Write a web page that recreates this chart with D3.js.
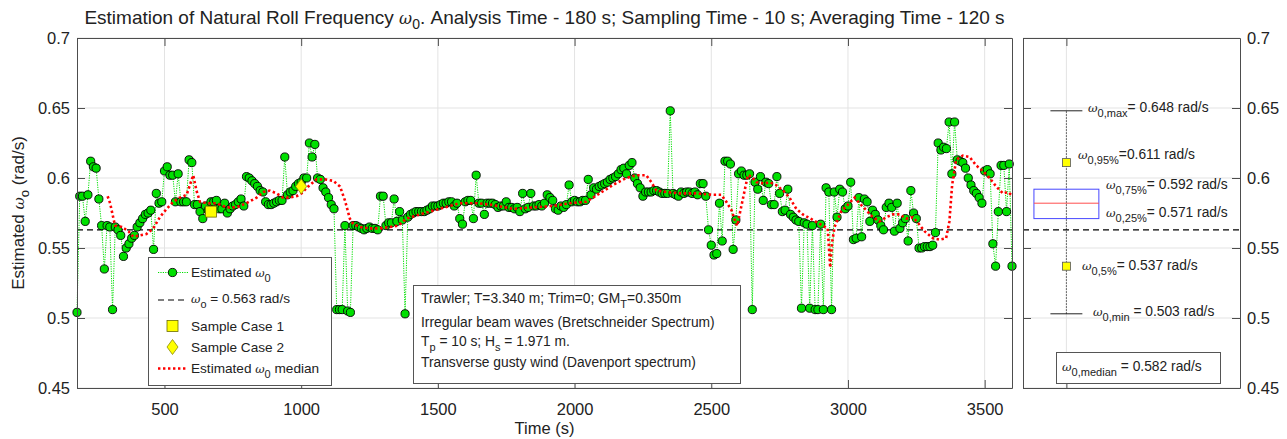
<!DOCTYPE html>
<html>
<head>
<meta charset="utf-8">
<script src="https://cdn.jsdelivr.net/npm/d3@7"></script>
<style>
  html, body { margin: 0; padding: 0; background: #fff; }
  svg { display: block; font-family: "Liberation Sans", Arial, Helvetica, sans-serif; }
</style>
</head>
<body>
<svg id="chart" width="1287" height="439"></svg>
<script>
// ---- data -------------------------------------------------------------
// Estimated natural roll frequency, sampled every 10 s from 180 s to 3600 s
const sampleTimes = d3.range(180, 3601, 10);
const omegaEstimated = [
  0.504,0.587,0.587,0.569,0.588,0.612,0.608,0.607,0.585,0.566, // 180-270
  0.535,0.566,0.565,0.506,0.565,0.563,0.559,0.544,0.550,0.553, // 280-370
  0.557,0.559,0.565,0.568,0.571,0.574,0.575,0.577,0.549,0.589, // 380-470
  0.582,0.583,0.605,0.608,0.602,0.602,0.583,0.603,0.583,0.583, // 480-570
  0.583,0.613,0.611,0.581,0.581,0.576,0.571,0.580,0.577,0.583, // 580-670
  0.583,0.584,0.578,0.578,0.582,0.575,0.578,0.580,0.581,0.583, // 680-770
  0.585,0.580,0.601,0.600,0.598,0.596,0.594,0.591,0.590,0.583, // 780-870
  0.581,0.581,0.582,0.583,0.584,0.584,0.615,0.588,0.590,0.591, // 880-970
  0.594,0.596,0.597,0.600,0.600,0.625,0.615,0.624,0.600,0.599, // 980-1070
  0.593,0.590,0.586,0.581,0.578,0.506,0.506,0.506,0.566,0.505, // 1080-1170
  0.504,0.566,0.566,0.565,0.564,0.563,0.564,0.565,0.564,0.564, // 1180-1270
  0.563,0.587,0.587,0.566,0.568,0.568,0.585,0.569,0.576,0.570, // 1280-1370
  0.503,0.572,0.574,0.575,0.576,0.576,0.576,0.576,0.577,0.578, // 1380-1470
  0.580,0.580,0.580,0.581,0.582,0.582,0.583,0.583,0.580,0.582, // 1480-1570
  0.571,0.567,0.583,0.584,0.584,0.571,0.602,0.582,0.582,0.574, // 1580-1670
  0.582,0.582,0.582,0.581,0.579,0.580,0.580,0.583,0.579,0.579, // 1680-1770
  0.578,0.579,0.576,0.589,0.578,0.579,0.589,0.580,0.580,0.581, // 1780-1870
  0.580,0.582,0.588,0.586,0.584,0.578,0.577,0.580,0.579,0.581, // 1880-1970
  0.595,0.583,0.584,0.583,0.583,0.584,0.584,0.599,0.588,0.593, // 1980-2070
  0.592,0.594,0.595,0.596,0.597,0.599,0.600,0.601,0.603,0.606, // 2080-2170
  0.607,0.603,0.609,0.611,0.600,0.596,0.593,0.587,0.590,0.590, // 2180-2270
  0.590,0.591,0.591,0.590,0.589,0.589,0.589,0.648,0.589,0.588, // 2280-2370
  0.587,0.590,0.589,0.590,0.590,0.589,0.590,0.588,0.596,0.596, // 2380-2470
  0.587,0.563,0.552,0.545,0.546,0.582,0.555,0.612,0.612,0.610, // 2480-2570
  0.549,0.570,0.603,0.605,0.602,0.602,0.603,0.506,0.597,0.592, // 2580-2670
  0.601,0.584,0.597,0.596,0.581,0.581,0.601,0.589,0.576,0.577, // 2680-2770
  0.592,0.574,0.572,0.570,0.569,0.507,0.568,0.567,0.507,0.566, // 2780-2870
  0.506,0.506,0.567,0.506,0.593,0.590,0.506,0.590,0.572,0.592, // 2880-2970
  0.590,0.578,0.580,0.597,0.556,0.557,0.586,0.558,0.585,0.583, // 2980-3070
  0.569,0.577,0.574,0.570,0.566,0.563,0.579,0.582,0.579,0.562, // 3080-3170
  0.582,0.564,0.568,0.571,0.555,0.591,0.575,0.571,0.550,0.550, // 3180-3270
  0.551,0.551,0.551,0.552,0.561,0.625,0.620,0.622,0.621,0.640, // 3280-3370
  0.603,0.640,0.613,0.612,0.611,0.607,0.600,0.595,0.591,0.589, // 3380-3470
  0.586,0.582,0.605,0.606,0.603,0.553,0.537,0.576,0.609,0.609, // 3480-3570
  0.576,0.610,0.537                                            // 3580-3600
];

// Running median of the estimate (120 s averaging window)
const medianTimes = [
  292,301,319,344,368,386,410,434,459,483,508,532,556,581,593,605,617,630,654,690,
  727,763,800,837,861,885,910,934,958,983,1001,1026,1056,1087,1117,1142,1160,1178,1191,1215,
  1252,1288,1325,1355,1385,1434,1507,1580,1641,1690,1775,1848,1921,1982,2043,2092,2140,2189,2226,2262,
  2281,2299,2336,2384,2445,2506,2537,2555,2574,2586,2595,2608,2622,2634,2647,2665,2695,2713,2737,2768,
  2786,2811,2835,2872,2908,2926,2935,2942,2951,2975,3000,3024,3042,3067,3091,3115,3140,3164,3189,3213,
  3237,3256,3280,3311,3335,3359,3371,3381,3396,3420,3445,3469,3493,3518,3542,3567,3585,3597
];
const medianValues = [
  0.587,0.582,0.566,0.565,0.562,0.558,0.559,0.560,0.564,0.572,0.578,0.583,0.586,0.588,0.595,0.602,0.591,0.583,0.582,0.582,
  0.579,0.579,0.582,0.586,0.590,0.591,0.589,0.586,0.586,0.587,0.589,0.594,0.599,0.599,0.598,0.594,0.584,0.571,0.567,0.565,
  0.564,0.564,0.565,0.566,0.571,0.574,0.578,0.582,0.582,0.581,0.578,0.579,0.580,0.582,0.583,0.589,0.595,0.600,0.602,0.602,
  0.597,0.591,0.590,0.589,0.589,0.588,0.588,0.583,0.577,0.570,0.566,0.578,0.591,0.602,0.601,0.597,0.596,0.597,0.595,0.590,
  0.586,0.578,0.574,0.570,0.566,0.564,0.536,0.554,0.565,0.576,0.581,0.586,0.582,0.577,0.572,0.569,0.572,0.574,0.574,0.571,
  0.572,0.568,0.562,0.557,0.556,0.557,0.569,0.595,0.613,0.616,0.615,0.609,0.605,0.600,0.594,0.589,0.590,0.588
];

const referenceOmega = 0.563;
const sampleCaseNames = ["Sample Case 1", "Sample Case 2"];
const sampleCaseTimes = [670, 1000];
const sampleCaseValues = [0.576, 0.594];

// Summary statistics of the estimate
const statNames  = ["min", "5%", "25%", "median", "75%", "95%", "max"];
const statValues = [0.503, 0.537, 0.571, 0.582, 0.592, 0.611, 0.648];

const xTicks = [500, 1000, 1500, 2000, 2500, 3000, 3500];
const yTicks = [0.45, 0.5, 0.55, 0.6, 0.65, 0.7];

const titleText = "Estimation of Natural Roll Frequency ";
const titleRest = ". Analysis Time - 180 s; Sampling Time - 10 s; Averaging Time - 120 s";
const infoLines = [
  ["Trawler; T=3.340 m; Trim=0; GM", "T", "=0.350m"],
  ["Irregular beam waves (Bretschneider Spectrum)"],
  ["T", "p", " = 10 s; H", "s", " = 1.971 m."],
  ["Transverse gusty wind (Davenport spectrum)"]
];

// ---- layout -----------------------------------------------------------
const svg = d3.select("#chart");
const FONT = "'Liberation Sans', Arial, sans-serif";
const axisColor = "#4d4d4d";
const gridColor = "#e3e3e3";
const green = "#00e000";
const tickFont = "16.5px";

const main = { left: 77, right: 1012, top: 38, bottom: 388 };
const side = { left: 1023, right: 1240, top: 38, bottom: 388 };

const x = d3.scaleLinear().domain([180, 3600]).range([main.left, main.right]);
const y = d3.scaleLinear().domain([0.45, 0.7]).range([main.bottom, main.top]);
const xs = d3.scaleLinear().domain([0.5, 3]).range([side.left, side.right]);
const ys = d3.scaleLinear().domain([0.45, 0.7]).range([side.bottom, side.top]);
const fmt = d => String(+d.toFixed(2));

// ---- main panel: grid ------------------------------------------------
const gMain = svg.append("g");
gMain.append("rect").attr("x", main.left).attr("y", main.top)
  .attr("width", main.right - main.left).attr("height", main.bottom - main.top)
  .attr("fill", "#fff");

gMain.append("g").selectAll("line").data(xTicks).join("line")
  .attr("x1", d => x(d)).attr("x2", d => x(d))
  .attr("y1", main.top).attr("y2", main.bottom)
  .attr("stroke", gridColor).attr("stroke-width", 1);
gMain.append("g").selectAll("line").data(yTicks).join("line")
  .attr("x1", main.left).attr("x2", main.right)
  .attr("y1", d => y(d)).attr("y2", d => y(d))
  .attr("stroke", gridColor).attr("stroke-width", 1);

// reference frequency
gMain.append("line")
  .attr("x1", main.left).attr("x2", main.right)
  .attr("y1", y(referenceOmega)).attr("y2", y(referenceOmega))
  .attr("stroke", "#000").attr("stroke-width", 1.2).attr("stroke-dasharray", "6,4");

// estimated series: dotted connector and circle markers
const series = sampleTimes.map((t, i) => [t, omegaEstimated[i]]);
gMain.append("path").datum(series)
  .attr("fill", "none").attr("stroke", green).attr("stroke-width", 1)
  .attr("stroke-dasharray", "1.2,1.2")
  .attr("d", d3.line().x(d => x(d[0])).y(d => y(d[1])));
gMain.append("g").selectAll("circle").data(series).join("circle")
  .attr("cx", d => x(d[0])).attr("cy", d => y(d[1])).attr("r", 4.1)
  .attr("fill", green).attr("stroke", "#000").attr("stroke-width", 0.9);

// running median
const medianSeries = medianTimes.map((t, i) => [t, medianValues[i]]);
gMain.append("path").datum(medianSeries)
  .attr("fill", "none").attr("stroke", "#ff0000").attr("stroke-width", 2.6)
  .attr("stroke-dasharray", "2.4,2.6")
  .attr("d", d3.line().x(d => x(d[0])).y(d => y(d[1])));

// sample cases
gMain.append("rect")
  .attr("x", x(sampleCaseTimes[0]) - 5.5).attr("y", y(sampleCaseValues[0]) - 5.5)
  .attr("width", 11).attr("height", 11)
  .attr("fill", "#ffff00").attr("stroke", "#6b6b00").attr("stroke-width", 0.8);
gMain.append("path")
  .attr("transform", `translate(${x(sampleCaseTimes[1])},${y(sampleCaseValues[1])})`)
  .attr("d", "M0,-7.5L5.5,0L0,7.5L-5.5,0Z")
  .attr("fill", "#ffff00").attr("stroke", "#8a8a00").attr("stroke-width", 0.8);

// axes of main panel (ticks point inward)
const axB = gMain.append("g").attr("transform", `translate(0,${main.bottom})`)
  .call(d3.axisBottom(x).tickValues(xTicks).tickSizeInner(-8).tickSizeOuter(0).tickPadding(15).tickFormat(d3.format("d")));
const axT = gMain.append("g").attr("transform", `translate(0,${main.top})`)
  .call(d3.axisTop(x).tickValues(xTicks).tickSizeInner(-8).tickSizeOuter(0).tickFormat(""));
const axL = gMain.append("g").attr("transform", `translate(${main.left},0)`)
  .call(d3.axisLeft(y).tickValues(yTicks).tickSizeInner(-8).tickSizeOuter(0).tickPadding(7).tickFormat(fmt));
const axR = gMain.append("g").attr("transform", `translate(${main.right},0)`)
  .call(d3.axisRight(y).tickValues(yTicks).tickSizeInner(-8).tickSizeOuter(0).tickFormat(""));
[axB, axT, axL, axR].forEach(a => {
  a.select(".domain").attr("stroke", axisColor);
  a.selectAll(".tick line").attr("stroke", axisColor);
  a.selectAll(".tick text").attr("fill", "#222").style("font-size", tickFont).style("font-family", FONT);
});

// ---- legend ------------------------------------------------------------
const leg = svg.append("g").style("font-family", FONT).style("font-size", "13.6px").attr("fill", "#222");
leg.append("rect").attr("x", 148.5).attr("y", 257.5).attr("width", 183).attr("height", 128)
  .attr("fill", "#fff").attr("stroke", "#555").attr("stroke-width", 1);
function omegaText(g, px, py, sub, rest, fs) {
  const t = g.append("text").attr("x", px).attr("y", py).style("font-size", fs + "px");
  t.append("tspan").text("ω").style("font-style", "italic").style("font-family", "'DejaVu Serif', serif")
    .style("font-size", (fs * 0.85) + "px");
  t.append("tspan").attr("dy", fs * 0.38).style("font-size", (fs * 0.8) + "px").text(sub);
  if (rest) t.append("tspan").attr("dy", -fs * 0.38).text(rest);
  return t;
}
// entry 1
leg.append("line").attr("x1", 158).attr("x2", 188).attr("y1", 272.5).attr("y2", 272.5)
  .attr("stroke", green).attr("stroke-width", 1).attr("stroke-dasharray", "1.2,1.2");
leg.append("circle").attr("cx", 172.5).attr("cy", 272.5).attr("r", 4.1)
  .attr("fill", green).attr("stroke", "#000").attr("stroke-width", 0.9);
{
  const t = leg.append("text").attr("x", 191).attr("y", 277).text("Estimated ");
  t.append("tspan").text("ω").style("font-style", "italic").style("font-family", "'DejaVu Serif', serif").style("font-size", "11.5px");
  t.append("tspan").attr("dy", 5).style("font-size", "11px").text("0");
}
// entry 2
leg.append("line").attr("x1", 158).attr("x2", 186).attr("y1", 300).attr("y2", 300)
  .attr("stroke", "#000").attr("stroke-width", 1.2).attr("stroke-dasharray", "6,4");
omegaText(leg, 191, 302.5, "o", " = " + referenceOmega.toFixed(3) + " rad/s", 13.6);
// entry 3
leg.append("rect").attr("x", 167).attr("y", 320.5).attr("width", 11).attr("height", 11)
  .attr("fill", "#ffff00").attr("stroke", "#6b6b00").attr("stroke-width", 0.8);
leg.append("text").attr("x", 191).attr("y", 331).text(sampleCaseNames[0]);
// entry 4
leg.append("path").attr("transform", "translate(172.5,347)").attr("d", "M0,-7.5L5.5,0L0,7.5L-5.5,0Z")
  .attr("fill", "#ffff00").attr("stroke", "#8a8a00").attr("stroke-width", 0.8);
leg.append("text").attr("x", 191).attr("y", 352).text(sampleCaseNames[1]);
// entry 5
leg.append("line").attr("x1", 158).attr("x2", 188).attr("y1", 368.5).attr("y2", 368.5)
  .attr("stroke", "#ff0000").attr("stroke-width", 2.6).attr("stroke-dasharray", "2.4,2.6");
{
  const t = leg.append("text").attr("x", 191).attr("y", 373).text("Estimated ");
  t.append("tspan").text("ω").style("font-style", "italic").style("font-family", "'DejaVu Serif', serif").style("font-size", "11.5px");
  t.append("tspan").attr("dy", 5).style("font-size", "11px").text("0");
  t.append("tspan").attr("dy", -5).text(" median");
}

// ---- info box ---------------------------------------------------------
const info = svg.append("g").style("font-family", FONT).style("font-size", "13.8px").attr("fill", "#222");
info.append("rect").attr("x", 413.5).attr("y", 285.5).attr("width", 327).attr("height", 98)
  .attr("fill", "#fff").attr("stroke", "#555").attr("stroke-width", 1);
const infoBase = [302.5, 326.5, 346, 366.5];
infoLines.forEach((parts, i) => {
  const t = info.append("text").attr("x", 421).attr("y", infoBase[i]);
  if (parts.length === 1) { t.text(parts[0]); return; }
  // alternate normal / subscript pieces
  parts.forEach((p, k) => {
    const isSub = k % 2 === 1;
    const s = t.append("tspan").text(p);
    if (isSub) s.attr("dy", 5).style("font-size", "11px");
    else if (k > 0) s.attr("dy", -5);
  });
});

// ---- side panel: box summary -----------------------------------------
const gSide = svg.append("g");
gSide.append("rect").attr("x", side.left).attr("y", side.top)
  .attr("width", side.right - side.left).attr("height", side.bottom - side.top).attr("fill", "#fff");
gSide.append("line").attr("x1", xs(1)).attr("x2", xs(1)).attr("y1", side.top).attr("y2", side.bottom)
  .attr("stroke", gridColor);
gSide.append("g").selectAll("line").data(yTicks).join("line")
  .attr("x1", side.left).attr("x2", side.right)
  .attr("y1", d => ys(d)).attr("y2", d => ys(d)).attr("stroke", gridColor);

const stat = name => statValues[statNames.indexOf(name)];
// whisker (dotted) from min to max
gSide.append("line").attr("x1", xs(1)).attr("x2", xs(1))
  .attr("y1", ys(stat("min"))).attr("y2", ys(stat("max")))
  .attr("stroke", "#333").attr("stroke-width", 0.9).attr("stroke-dasharray", "1.5,1.5");
// min / max caps
["min", "max"].forEach(n => {
  gSide.append("line").attr("x1", xs(0.816)).attr("x2", xs(1.184))
    .attr("y1", ys(stat(n))).attr("y2", ys(stat(n)))
    .attr("stroke", "#222").attr("stroke-width", 1);
});
// interquartile box and median
gSide.append("rect").attr("x", xs(0.626)).attr("y", ys(stat("75%")))
  .attr("width", xs(1.374) - xs(0.626)).attr("height", ys(stat("25%")) - ys(stat("75%")))
  .attr("fill", "none").attr("stroke", "#4646ff").attr("stroke-width", 1);
gSide.append("line").attr("x1", xs(0.626)).attr("x2", xs(1.374))
  .attr("y1", ys(stat("median"))).attr("y2", ys(stat("median")))
  .attr("stroke", "#ff4d4d").attr("stroke-width", 1);
// percentile markers
["5%", "95%"].forEach(n => {
  gSide.append("rect").attr("x", xs(1) - 4).attr("y", ys(stat(n)) - 4)
    .attr("width", 8).attr("height", 8)
    .attr("fill", "#ffff00").attr("stroke", "#555").attr("stroke-width", 0.8);
});
// reference frequency continues through the side panel
gSide.append("line").attr("x1", side.left).attr("x2", side.right)
  .attr("y1", ys(referenceOmega)).attr("y2", ys(referenceOmega))
  .attr("stroke", "#000").attr("stroke-width", 1.2).attr("stroke-dasharray", "6,4");

// side axes
const sR = gSide.append("g").attr("transform", `translate(${side.right},0)`)
  .call(d3.axisRight(ys).tickValues(yTicks).tickSizeInner(-8).tickSizeOuter(0).tickPadding(7).tickFormat(fmt));
const sL = gSide.append("g").attr("transform", `translate(${side.left},0)`)
  .call(d3.axisLeft(ys).tickValues(yTicks).tickSizeInner(-8).tickSizeOuter(0).tickFormat(""));
const sB = gSide.append("g").attr("transform", `translate(0,${side.bottom})`)
  .call(d3.axisBottom(xs).tickValues([1]).tickSizeInner(-8).tickSizeOuter(0).tickFormat(""));
const sT = gSide.append("g").attr("transform", `translate(0,${side.top})`)
  .call(d3.axisTop(xs).tickValues([1]).tickSizeInner(-8).tickSizeOuter(0).tickFormat(""));
[sR, sL, sB, sT].forEach(a => {
  a.select(".domain").attr("stroke", axisColor);
  a.selectAll(".tick line").attr("stroke", axisColor);
  a.selectAll(".tick text").attr("fill", "#222").style("font-size", tickFont).style("font-family", FONT);
});

// statistic labels
const lab = svg.append("g").style("font-family", FONT).attr("fill", "#222");
const fsL = 13.8;
omegaText(lab, 1088, ys(stat("max")) + 1, "0,max", "= " + stat("max").toFixed(3) + " rad/s", fsL);
omegaText(lab, 1078, ys(stat("95%")) - 4, "0,95%", "=" + stat("95%").toFixed(3) + " rad/s", fsL);
omegaText(lab, 1106, ys(stat("75%")), "0,75%", "= " + stat("75%").toFixed(3) + " rad/s", fsL);
omegaText(lab, 1106, ys(stat("25%")) - 2, "0,25%", "= " + stat("25%").toFixed(3) + " rad/s", fsL);
omegaText(lab, 1082, ys(stat("5%")) + 3.5, "0,5%", "= " + stat("5%").toFixed(3) + " rad/s", fsL);
omegaText(lab, 1093, ys(stat("min")) + 2, "0,min", " = " + stat("min").toFixed(3) + " rad/s", fsL);
lab.append("rect").attr("x", 1056.5).attr("y", 352.5).attr("width", 164).attr("height", 31)
  .attr("fill", "#fff").attr("stroke", "#555").attr("stroke-width", 1);
omegaText(lab, 1062, 370.5, "0,median", " = " + stat("median").toFixed(3) + " rad/s", fsL);

// ---- titles -------------------------------------------------------------
{
  const t = svg.append("text").attr("x", (main.left + main.right) / 2).attr("y", 24)
    .attr("text-anchor", "middle").style("font-family", FONT).style("font-size", "19px").attr("fill", "#222")
    .text(titleText);
  t.append("tspan").text("ω").style("font-style", "italic").style("font-family", "'DejaVu Serif', serif").style("font-size", "16px");
  t.append("tspan").attr("dy", 5).style("font-size", "14px").text("0");
  t.append("tspan").attr("dy", -5).text(titleRest);
}
svg.append("text").attr("x", (main.left + main.right) / 2).attr("y", 434)
  .attr("text-anchor", "middle").style("font-family", FONT).style("font-size", "16.5px").attr("fill", "#222")
  .text("Time (s)");
{
  const t = svg.append("text").attr("transform", `translate(24,${(main.top + main.bottom) / 2}) rotate(-90)`)
    .attr("text-anchor", "middle").style("font-family", FONT).style("font-size", "17px").attr("fill", "#222")
    .text("Estimated ");
  t.append("tspan").text("ω").style("font-style", "italic").style("font-family", "'DejaVu Serif', serif").style("font-size", "15px");
  t.append("tspan").attr("dy", 5).style("font-size", "13px").text("o");
  t.append("tspan").attr("dy", -5).text(" (rad/s)");
}
</script>
</body>
</html>
